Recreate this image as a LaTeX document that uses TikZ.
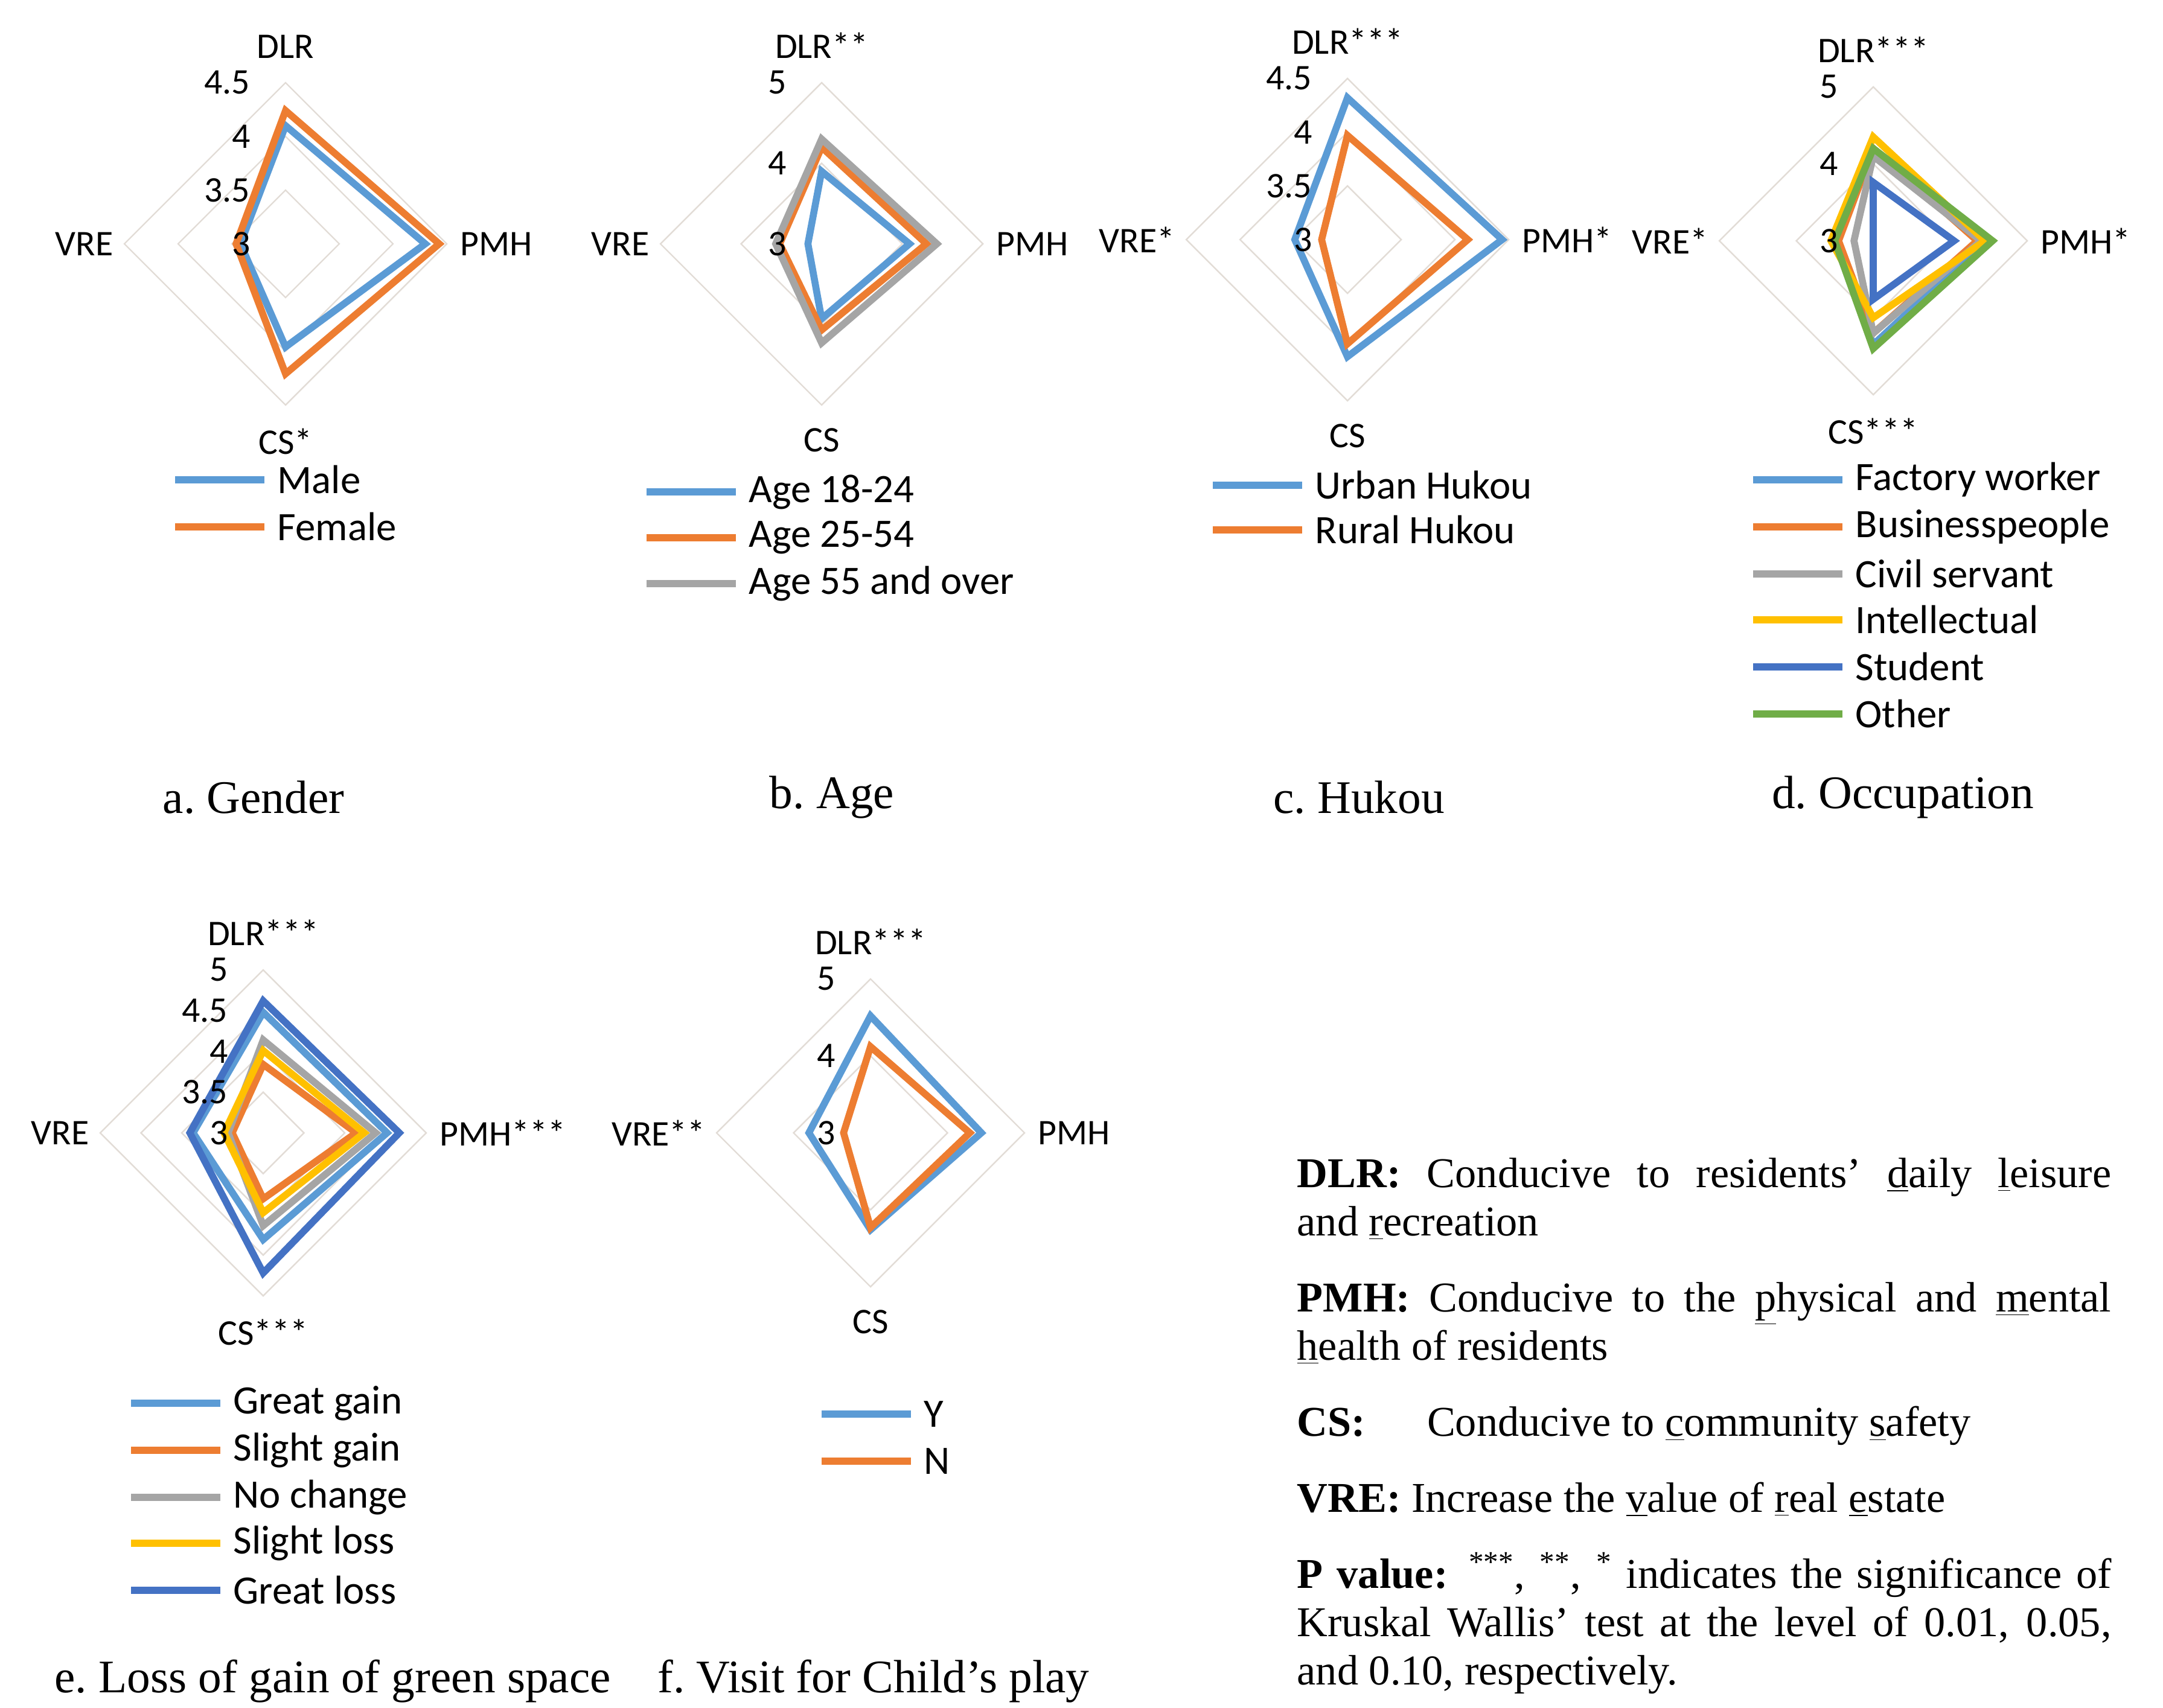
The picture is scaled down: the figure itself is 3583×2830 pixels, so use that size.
\documentclass[tikz,border=0pt]{standalone}
\usepackage{fontspec}
\setmainfont{Liberation Serif}
\newfontfamily\labfont{Carlito}
\definecolor{cblue}{HTML}{5B9BD5}
\definecolor{corange}{HTML}{ED7D31}
\definecolor{cgray}{HTML}{A5A5A5}
\definecolor{cyellow}{HTML}{FFC000}
\definecolor{cdark}{HTML}{4472C4}
\definecolor{cgreen}{HTML}{70AD47}
\definecolor{gridc}{HTML}{E2DCD6}

\tikzset{
  grid/.style={draw=gridc, line width=0.7pt},
  series/.style={line width=3.3pt, line join=miter},
  ax/.style={font=\labfont\fontsize{17}{20}\selectfont, inner sep=0pt},
  tick/.style={ax, anchor=east},
  leg/.style={font=\labfont\fontsize{19}{22}\selectfont, anchor=west, inner sep=0pt},
  caption/.style={font=\fontsize{22}{26}\selectfont, inner sep=0pt}
}

% distance of a value from the centre of the current panel
\newcommand{\rpt}[1]{\rr*(#1-\vmin)/\vspan}
\newcommand{\ring}[1]{\draw[grid] (0,{-\rpt{#1}}) -- ({\rpt{#1}},0) -- (0,{\rpt{#1}}) -- ({-\rpt{#1}},0) -- cycle;}
\newcommand{\radar}[5]{\draw[series,#1] (0,{-\rpt{#2}}) -- ({\rpt{#3}},0) -- (0,{\rpt{#4}}) -- ({-\rpt{#5}},0) -- cycle;}
\newcommand{\ticklab}[2]{\node[tick] (#1) at (-58,{-\rpt{#2}}) {#2};}
\newcommand{\axes}[5]{%
  \node[ax, anchor=south] (#1dlr) at (0,{-\rr-40}) {#2};
  \node[ax, anchor=west] (#1pmh) at ({\rr+22},0) {#3};
  \node[ax, anchor=north] (#1cs) at (0,{\rr+38}) {#4};
  \node[ax, anchor=east] (#1vre) at ({-\rr-18},0) {#5};}
\newcommand{\legline}[2]{\draw[series,#2] ([xshift=-6]#1.west) -- ++(-148,0);}

\begin{document}
\begin{tikzpicture}[x=0.01cm, y=-0.01cm]
\useasboundingbox (0,0) rectangle (3583,2830);

% a. Gender
\begin{scope}[shift={(473,404)}]
  \def\vmin{3}\def\vspan{1.5}\def\rr{267}
  \ring{3.5} \ring{4} \ring{4.5}
  \axes{a}{DLR}{PMH}{CS*}{VRE}
  \radar{cblue}{4.1}{4.3}{3.96}{3.42}
  \radar{corange}{4.24}{4.43}{4.21}{3.46}
  \ticklab{a3}{3} \ticklab{a35}{3.5} \ticklab{a4}{4} \ticklab{a45}{4.5}
\end{scope}
\node[leg] (lmale) at (459,795) {Male};
\node[leg] (lfemale) at (459,873) {Female};
\legline{lmale}{cblue} \legline{lfemale}{corange}
\node[caption] (capa) at (420,1321) {a.\ Gender};

% b. Age
\begin{scope}[shift={(1361,404)}]
  \def\vmin{3}\def\vspan{2}\def\rr{267}
  \ring{4} \ring{5}
  \axes{b}{DLR**}{PMH}{CS}{VRE}
  \radar{cblue}{3.9}{4.09}{3.93}{3.17}
  \radar{corange}{4.2}{4.3}{4.07}{3.52}
  \radar{cgray}{4.3}{4.43}{4.23}{3.57}
  \ticklab{b3}{3} \ticklab{b4}{4} \ticklab{b5}{5}
\end{scope}
\node[leg] (lage1) at (1240,815) {Age 18-24};
\node[leg] (lage2) at (1240,891) {Age 25-54};
\node[leg] (lage3) at (1240,967) {Age 55 and over};
\legline{lage1}{cblue} \legline{lage2}{corange} \legline{lage3}{cgray}
\node[caption] (capb) at (1378,1321) {b.\ Age};

% c. Hukou
\begin{scope}[shift={(2232,397)}]
  \def\vmin{3}\def\vspan{1.5}\def\rr{267}
  \ring{3.5} \ring{4} \ring{4.5}
  \axes{c}{DLR***}{PMH*}{CS}{VRE*}
  \radar{cblue}{4.32}{4.44}{4.09}{3.49}
  \radar{corange}{3.97}{4.12}{3.97}{3.24}
  \ticklab{c3}{3} \ticklab{c35}{3.5} \ticklab{c4}{4} \ticklab{c45}{4.5}
\end{scope}
\node[leg] (lurban) at (2178,804) {Urban Hukou};
\node[leg] (lrural) at (2178,878) {Rural Hukou};
\legline{lurban}{cblue} \legline{lrural}{corange}
\node[caption] (capc) at (2251,1321) {c.\ Hukou};

% d. Occupation
\begin{scope}[shift={(3103,399)}]
  \def\vmin{3}\def\vspan{2}\def\rr{255}
  \ring{4} \ring{5}
  \axes{d}{DLR***}{PMH*}{CS***}{VRE*}
  \radar{cblue}{4.15}{4.45}{4.35}{3.5}
  \radar{corange}{4.2}{4.35}{4.2}{3.45}
  \radar{cgray}{4.1}{4.4}{4.2}{3.25}
  \radar{cyellow}{4.35}{4.45}{4.0}{3.55}
  \radar{cdark}{3.76}{4.05}{3.76}{3.0}
  \radar{cgreen}{4.2}{4.55}{4.4}{3.5}
  \ticklab{d3}{3} \ticklab{d4}{4} \ticklab{d5}{5}
\end{scope}
\node[leg] (lfactory) at (3073,795) {Factory worker};
\node[leg] (lbusiness) at (3073,873) {Businesspeople};
\node[leg] (lcivil) at (3073,951) {Civil servant};
\node[leg] (lintel) at (3073,1027) {Intellectual};
\node[leg] (lstudent) at (3073,1105) {Student};
\node[leg] (lother) at (3073,1183) {Other};
\legline{lfactory}{cblue} \legline{lbusiness}{corange} \legline{lcivil}{cgray}
\legline{lintel}{cyellow} \legline{lstudent}{cdark} \legline{lother}{cgreen}
\node[caption] (capd) at (3152,1321) {d.\ Occupation};

% e. Loss of gain of green space
\begin{scope}[shift={(436,1877)}]
  \def\vmin{3}\def\vspan{2}\def\rr{270}
  \ring{3.5} \ring{4} \ring{4.5} \ring{5}
  \axes{e}{DLR***}{PMH***}{CS***}{VRE}
  \radar{cblue}{4.48}{4.52}{4.31}{3.86}
  \radar{corange}{3.84}{4.14}{3.81}{3.38}
  \radar{cgray}{4.14}{4.38}{4.14}{3.43}
  \radar{cyellow}{4.01}{4.24}{3.98}{3.48}
  \radar{cdark}{4.62}{4.67}{4.72}{3.9}
  \ticklab{e3}{3} \ticklab{e35}{3.5} \ticklab{e4}{4} \ticklab{e45}{4.5} \ticklab{e5}{5}
\end{scope}
\node[leg] (lggain) at (386,2325) {Great gain};
\node[leg] (lsgain) at (386,2403) {Slight gain};
\node[leg] (lnoch) at (386,2481) {No change};
\node[leg] (lsloss) at (386,2557) {Slight loss};
\node[leg] (lgloss) at (386,2635) {Great loss};
\legline{lggain}{cblue} \legline{lsgain}{corange} \legline{lnoch}{cgray}
\legline{lsloss}{cyellow} \legline{lgloss}{cdark}
\node[caption] (cape) at (551,2786) {e.\ Loss of gain of green space};

% f. Visit for Child's play
\begin{scope}[shift={(1442,1877)}]
  \def\vmin{3}\def\vspan{2}\def\rr{255}
  \ring{4} \ring{5}
  \axes{f}{DLR***}{PMH}{CS}{VRE**}
  \radar{cblue}{4.52}{4.44}{4.26}{3.8}
  \radar{corange}{4.12}{4.29}{4.23}{3.35}
  \ticklab{f3}{3} \ticklab{f4}{4} \ticklab{f5}{5}
\end{scope}
\node[leg] (lyes) at (1530,2343) {Y};
\node[leg] (lno) at (1530,2421) {N};
\legline{lyes}{cblue} \legline{lno}{corange}
\node[caption] (capf) at (1447,2786) {f.\ Visit for Child's play};

% abbreviations
\node[anchor=north west, inner sep=0pt, text width=13.48cm, align=justify,
      font=\fontsize{20}{22.8}\selectfont] (notes) at (2148,1918) {%
  \textbf{DLR:} Conducive to residents' \underline{d}aily \underline{l}eisure\linebreak
  and \underline{r}ecreation\par\vspace{13pt}
  \textbf{PMH:} Conducive to the \underline{p}hysical and \underline{m}ental\linebreak
  \underline{h}ealth of residents\par\vspace{13pt}
  \textbf{CS:}\hspace{1.2em} Conducive to \underline{c}ommunity \underline{s}afety\par\vspace{13pt}
  \textbf{VRE:} Increase the \underline{v}alue of \underline{r}eal \underline{e}state\par\vspace{13pt}
  \textbf{P value:} \textsuperscript{***}, \textsuperscript{**}, \textsuperscript{*} indicates the significance of\linebreak
  Kruskal Wallis' test at the level of 0.01, 0.05,\linebreak
  and 0.10, respectively.};
\end{tikzpicture}
\end{document}
